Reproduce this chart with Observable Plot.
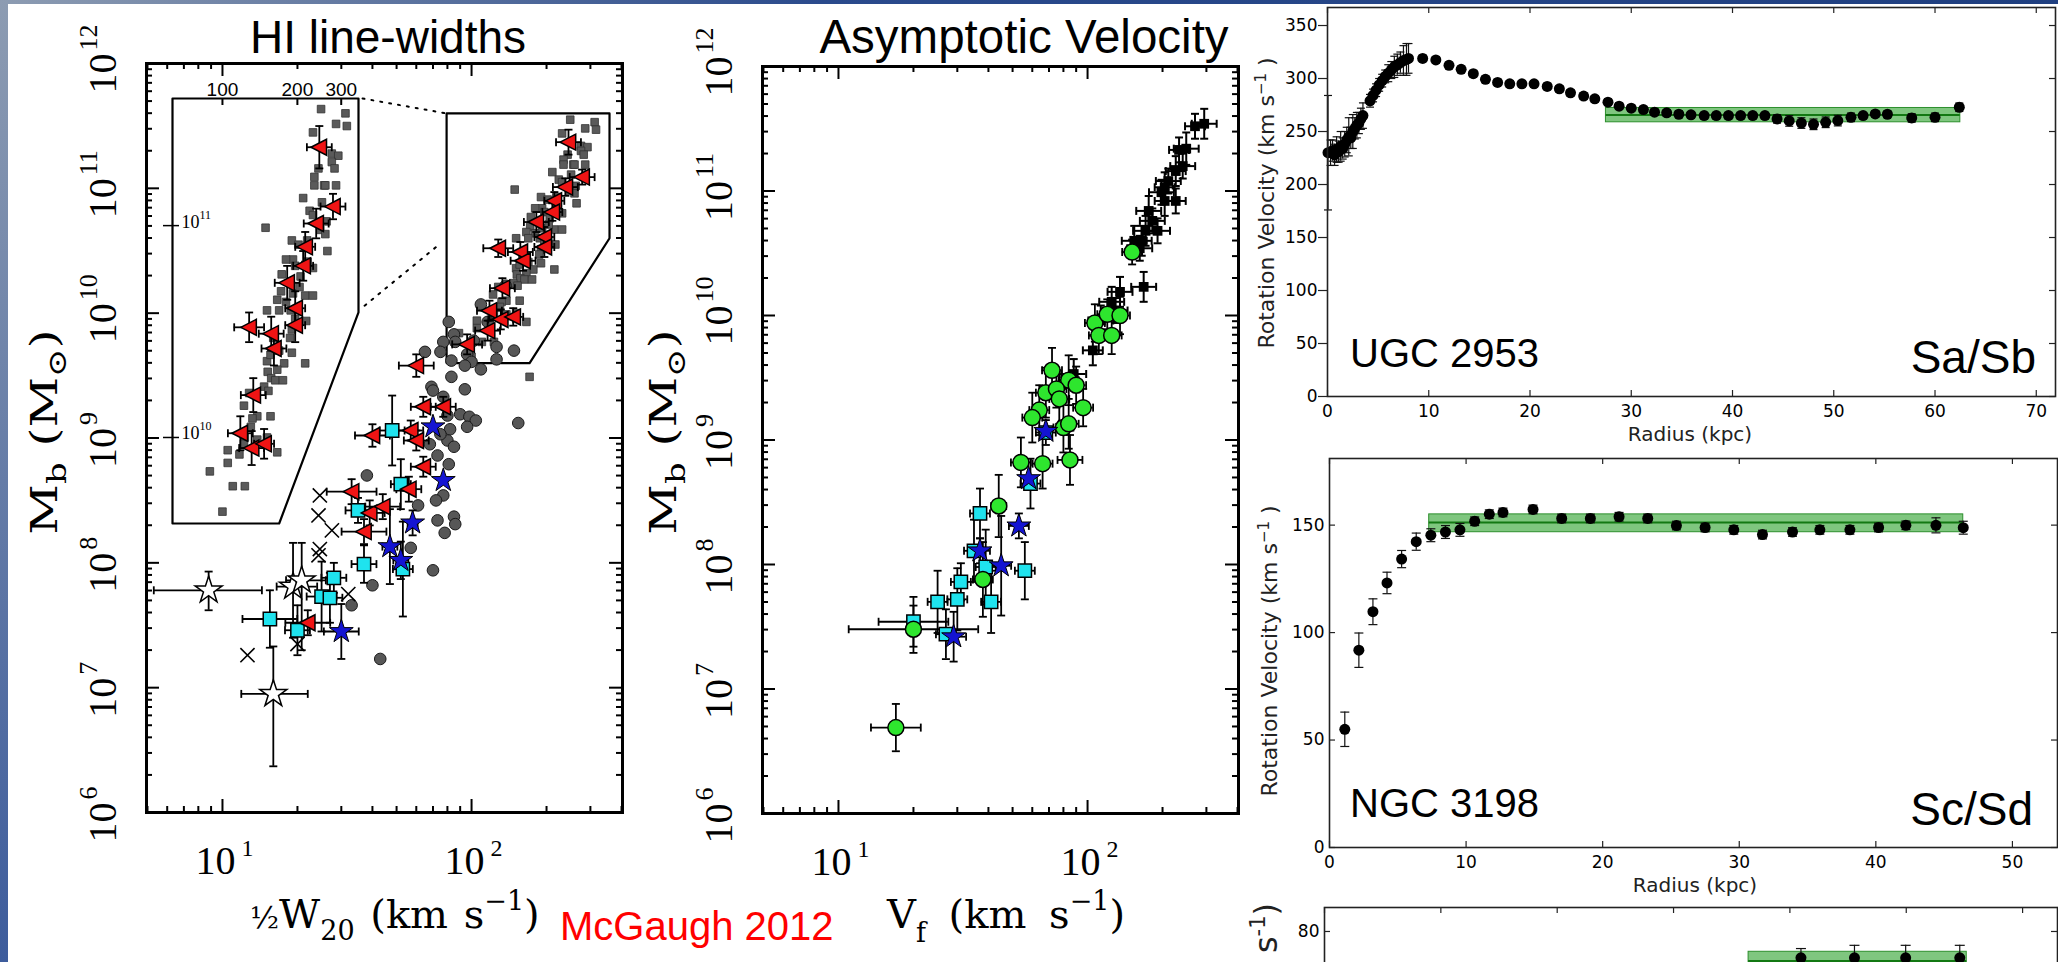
<!DOCTYPE html>
<html>
<head>
<meta charset="utf-8">
<script src="https://cdn.jsdelivr.net/npm/d3@7"></script>
<script src="https://cdn.jsdelivr.net/npm/@observablehq/plot@0.6"></script>
<style>
html, body { margin:0; padding:0; overflow:hidden; background:#fff; }
#stage { position:relative; width:2058px; height:962px; overflow:hidden; background:#fff; }
#stage > svg { position:absolute; left:0; top:0; }
#stripL { position:absolute; left:0; top:0; width:8px; height:962px; background:linear-gradient(#8d9cb2,#3d5c9c); z-index:10; }
#stripT { position:absolute; left:0; top:0; width:2058px; height:4px; background:linear-gradient(90deg,#8d9cb2,#2a4a8c 40%,#1f3f80); z-index:10; }
</style>
</head>
<body>
<div id="stage"><div id="stripL"></div><div id="stripT"></div></div>
<script>
// ================= DATA =================
// Left panel "HI line-widths": [½W20 (km/s), log10 Mb (Msun)]
const lwSquares = [[249,11.55],[312,11.53],[286,11.48],[316,11.47],[231,11.44],[275,11.34],[292,11.33],[275,11.30],[282,11.27],[243,11.27],[234,11.23],[256,11.19],[234,11.19],[286,11.19],[259,11.19],[211,11.13],[149,10.99],[251,11.11],[224,11.07],[231,11.05],[262,11.02],[247,10.98],[259,10.96],[264,10.88],[190,10.93],[202,10.91],[219,10.93],[192,10.84],[180,10.84],[220,10.83],[196,10.81],[231,10.80],[173,10.77],[206,10.76],[172,10.69],[192,10.68],[215,10.67],[231,10.67],[166,10.65],[180,10.64],[204,10.71],[151,10.60],[169,10.60],[188,10.60],[196,10.56],[217,10.55],[190,10.51],[160,10.47],[187,10.47],[169,10.41],[190,10.40],[151,10.36],[156,10.39],[177,10.35],[166,10.32],[152,10.31],[157,10.28],[215,10.35],[163,10.27],[175,10.27],[147,10.24],[153,10.22],[128,10.21],[122,10.15],[138,10.10],[156,10.10],[132,10.09],[130,10.05],[151,10.00],[105,9.94],[117,9.92],[105,9.88],[166,9.93],[123,10.00],[122,9.97],[138,9.99],[110,9.77],[123,9.77],[100,9.65],[89,9.84],[171,9.49]];
const lwCircles = [[137,10.22],[109,10.07],[81,9.93],[116,9.93],[85,9.83],[77,9.77],[86,9.77],[75,9.69],[102,9.78],[126,9.73],[65,9.69],[96,9.67],[126,9.63],[100,9.61],[83,9.62],[69,9.41],[94,9.58],[109,9.55],[83,9.49],[94,9.39],[77,9.33],[80,9.18],[90,9.19],[98,9.17],[104,9.14],[96,9.09],[82,9.07],[154,9.12],[80,8.98],[85,8.93],[81,8.79],[73,8.86],[68,8.95],[75,9.03],[38,8.70],[70,9.38],[148,9.70],[77,8.54],[72,8.50],[61,8.46],[85,8.37],[73,8.34],[86,8.31],[78,8.24],[57,8.12],[40,7.82],[33,7.66],[70,7.94],[43,7.23],[53,8.62]];
const lwCrosses = [[24.6,8.54],[24.3,8.38],[27.5,8.26],[24.6,8.11],[24.3,8.06],[32,7.75],[12.6,7.26],[20,7.35]];
// [V, logM, error in log V (dex), error in log M (dex)]
const lwRed = [[245,11.37,.05,.10],[278,11.09,.05,.06],[238,11.01,.05,.07],[215,10.90,.04,.07],[211,10.81,.04,.07],[182,10.73,.05,.08],[196,10.61,.04,.08],[196,10.53,.04,.08],[128,10.52,.06,.07],[157,10.49,.05,.08],[161,10.42,.05,.08],[133,10.20,.05,.08],[118,10.02,.05,.08],[131,9.95,.05,.08],[147,9.97,.04,.07],[116,9.86,.05,.08],[96,9.75,.06,.08],[60,9.58,.07,.09],[64,9.25,.05,.08],[77,9.25,.05,.08],[40,9.02,.07,.09],[57,9.06,.05,.08],[60,8.98,.05,.08],[64,8.77,.05,.08],[33,8.57,.1,.1],[39,8.40,.06,.1],[44,8.45,.07,.1],[56,8.59,.05,.1],[37,8.25,.09,.1],[22,7.52,.09,.1]];
const lwCyan = [[48,9.06,.05,.28],[52,8.63,.04,.2],[35,8.42,.05,.1],[28,7.88,.05,.12],[25,7.73,.06,.28],[27,7.72,.05,.2],[15.5,7.55,.11,.23],[20,7.46,.05,.2],[37,7.99,.05,.15],[53,7.95,.04,.38]];
const lwBlueStars = [[70,9.09,0,0],[77,8.66,0,0],[58,8.32,.02,.1],[47,8.13,.03,.3],[52,8.02,.03,.15],[30,7.45,.07,.22]];
// [V, logM, Vlow, Vhigh, logMlow, logMhigh]
const lwWhiteStars = [[8.8,7.78,5.3,14.4,7.62,7.93],[19.2,7.81,16.5,24,7.40,8.16],[20.8,7.86,18,26,7.3,8.16],[16,6.95,11.9,22,6.37,7.33]];

// Middle panel "Asymptotic Velocity": [Vf (km/s), log10 Mb, err log V, err log M]
const vfBlack = [[294,11.54,.05,.12],[270,11.52,.04,.1],[249,11.34,.05,.13],[233,11.33,.04,.1],[241,11.20,.05,.1],[226,11.16,.04,.12],[211,11.08,.05,.1],[204,11.03,.04,.12],[198,10.99,.05,.1],[226,10.92,.04,.1],[204,10.92,.04,.12],[176,10.84,.05,.12],[182,10.76,.05,.1],[191,10.68,.05,.1],[171,10.68,.05,.12],[165,10.60,.04,.12],[162,10.54,.05,.1],[154,10.60,.05,.12],[168,10.23,.05,.12],[135,10.19,.05,.12],[125,10.11,.05,.12],[129,10.04,.05,.1],[105,9.72,.04,.12],[88,9.53,.05,.12],[113,9.96,.05,.12]];
const vfGreen = [[151,10.51,.04,.1],[107,9.94,.04,.15],[120,10.01,.04,.12],[135,10.00,.04,.15],[111,9.84,.04,.15],[125,9.84,.04,.15],[72,9.56,.04,.18],[84,9.48,.04,.2],[90,9.44,.04,.15],[68,9.38,.04,.2],[75,9.41,.04,.15],[77,9.33,.04,.2],[96,9.26,.04,.15],[64,9.24,.04,.2],[60,9.18,.04,.2],[80,9.10,.04,.2],[84,9.13,.04,.2],[54,8.82,.04,.2],[66,8.81,.04,.2],[85,8.84,.05,.2],[44,8.47,.03,.25],[38,7.88,.04,.3],[20,7.48,.26,.19],[17,6.69,.1,.19]];
const vfCyan = [[37,8.41,.04,.2],[35,8.11,.04,.25],[39,7.98,.04,.3],[31,7.86,.04,.15],[25,7.70,.04,.25],[30,7.72,.04,.25],[41,7.70,.04,.25],[56,7.95,.04,.23],[20,7.54,.14,.2],[27,7.44,.04,.2],[59,8.65,.04,.2],[68,9.06,.04,.1]];
const vfBlue = [[53,8.31,.04,.1],[45,7.99,.04,.4],[37,8.11,.04,.1],[29,7.42,.05,.2],[68,9.07,0,0],[58,8.69,0,0]];

// Rotation curves: radius (kpc), velocity (km/s), error (km/s)
const ugcR = [0.05,0.3,0.5,0.7,0.9,1.1,1.3,1.5,1.7,1.9,2.1,2.3,2.5,2.7,2.9,3.1,3.3,3.5,4.2,4.5,4.8,5.1,5.4,5.7,6.0,6.3,6.6,6.9,7.2,7.5,7.8,8.0,9.4,10.7,12.0,13.2,14.4,15.6,16.8,18.0,19.2,20.4,21.7,22.9,24.0,25.3,26.4,27.7,28.8,30.0,31.2,32.3,33.5,34.7,35.9,37.2,38.4,39.6,40.8,42.0,43.2,44.4,45.6,46.8,48.0,49.2,50.4,51.7,52.9,54.1,55.3,57.7,60.0,62.4];
const ugcV = [230,230,232,228,233,231,236,234,238,242,245,244,250,253,256,258,262,265,279,284,289,294,298,302,305,308,311,313,315,317,318,319,319,317.5,312.4,308.7,304.6,299.2,296.3,295,295,295,292.5,290.3,286.5,283.4,280.8,277.7,273.9,272,270.7,268.2,267.6,266.3,265.7,265,265,265,265,265,265,261.9,260,258,256.8,258.7,260.3,263.4,265,266.6,266.3,262.8,263.4,272.9];
const ugcE = [54,12,10,10,12,10,14,10,12,12,18,10,16,10,12,10,10,12,6,6,6,6,6,6,8,8,10,10,10,14,15,14,3,3,3,3,3,3,3,3,3,3,3,3,3,3,3,3,3,3,3,3,3,3,3,3,3,3,3,3,3,4,5,5,5,5,5,4,3,3,3,4,4,4];
const ugcFlat = {r1: 27.5, r2: 62.5, v: 265.6, lo: 258.7, hi: 272.2};

const ngcR = [1.12,2.15,3.18,4.21,5.28,6.35,7.42,8.49,9.55,10.63,11.7,12.7,14.9,17.0,19.1,21.2,23.3,25.4,27.5,29.6,31.7,33.9,35.9,38.1,40.2,42.2,44.4,46.4];
const ngcV = [55.0,91.8,109.7,123.1,134.2,142.3,145.3,146.8,147.8,151.8,155.1,155.9,157.3,153.1,153.1,153.9,153.1,149.8,148.9,147.8,145.6,146.8,147.8,147.8,148.9,149.9,149.9,148.8];
const ngcE = [8,8,6,5,4,4,3,3,3,2,2,2,2,2,2,2,2,2,2,2,2,2,2,2,2,2,3.5,3];
const ngcFlat = {r1: 7.3, r2: 46.4, v: 151.2, lo: 146.7, hi: 155.0};

const dwR = [8.19, 9.11, 9.99, 10.92];
const dwV = [74.3, 74.3, 74.3, 74.3];
const dwE = [2.0, 2.7, 2.7, 2.7];
const dwFlat = {r1: 7.29, r2: 11.04, v: 73.6, lo: 71.6, hi: 75.6};

// annotation outlines of the HI line-width panel, in data units [V, logM]
const boxMain = [[79.4,11.6],[358,11.6],[358,10.6],[171,9.6],[79.4,9.6],[79.4,11.6]];
const boxInset = [[63,11.6],[352,11.6],[352,10.59],[169,9.594],[63,9.594],[63,11.6]];
const connectors = [[[36.5,11.72],[79.4,11.6]], [[37.2,10.06],[75.2,10.56]]];

// tick values
const logXMajor = [10, 100];
const logYMajor = [1e6,1e7,1e8,1e9,1e10,1e11,1e12];
const insetXTicks = [100, 200, 300];
const insetYTicks = [1e10, 1e11];
const ugcXTicks = [0,10,20,30,40,50,60,70], ugcYTicks = [0,50,100,150,200,250,300,350];
const ngcXTicks = [0,10,20,30,40,50], ngcYTicks = [0,50,100,150];
const dwXTicks = [0,2,4,6,8,10,12], dwYTicks = [0,20,40,60,80], dwYLabels = [80];

// ================= DRAWING =================
const W = 2058, H = 962;
const SERIF_T = "Liberation Serif, Times New Roman, serif";
const SERIF_L = "DejaVu Serif, serif";
const SANS = "Liberation Sans, Arial, sans-serif";
const MPL = "DejaVu Sans, sans-serif";
const stage = document.getElementById("stage");
const stripL = document.getElementById("stripL");
const put = el => { stage.insertBefore(el, stripL); return el; };

function minorLog(lo, hi) {
  const out = [];
  for (let e = Math.floor(Math.log10(lo)); e <= Math.ceil(Math.log10(hi)); e++)
    for (let k = 2; k <= 9; k++) { const v = k * 10 ** e; if (v > lo && v < hi) out.push(v); }
  return out;
}
const capV = {draw(c, s) { const r = Math.sqrt(s / Math.PI); c.moveTo(0, -r); c.lineTo(0, r); }};
const capH = {draw(c, s) { const r = Math.sqrt(s / Math.PI); c.moveTo(-r, 0); c.lineTo(r, 0); }};
const triLeft = {draw(c, s) { const r = Math.sqrt(s / Math.PI); c.moveTo(-r * 1.05, 0); c.lineTo(r * 0.9, -r); c.lineTo(r * 0.9, r); c.closePath(); }};

function errBars(data, {x, y, x1, x2, y1, y2, cap = 4, sw = 1.8, color = "black"}) {
  const hx = data.filter(d => x1(d) !== x2(d));
  const hy = data.filter(d => y1(d) !== y2(d));
  const s = {stroke: color, strokeWidth: sw, fill: "none"};
  return [
    Plot.ruleY(hx, {y, x1, x2, stroke: color, strokeWidth: sw}),
    Plot.ruleX(hy, {x, y1, y2, stroke: color, strokeWidth: sw}),
    Plot.dot(hx, {x: x1, y, symbol: capV, r: cap, ...s}),
    Plot.dot(hx, {x: x2, y, symbol: capV, r: cap, ...s}),
    Plot.dot(hy, {x, y: y1, symbol: capH, r: cap, ...s}),
    Plot.dot(hy, {x, y: y2, symbol: capH, r: cap, ...s})
  ];
}
const X = d => d[0], Y = d => 10 ** d[1];
const dexBars = (data, o = {}) => errBars(data, {x: X, y: Y,
  x1: d => d[0] * 10 ** -d[2], x2: d => d[0] * 10 ** d[2],
  y1: d => 10 ** (d[1] - d[3]), y2: d => 10 ** (d[1] + d[3]), ...o});

function framed(f, x, y, marks, height = H) {
  return Plot.plot({
    width: W, height,
    marginLeft: f.l, marginRight: W - f.r, marginTop: f.t, marginBottom: height - f.b,
    x: {...x, axis: null}, y: {...y, axis: null},
    style: {background: "transparent", overflow: "visible"},
    marks
  });
}

function idlTicks(f, xMaj, xMin, yMaj, yMin) {
  const fw = f.r - f.l, fh = f.b - f.t, A = 13, B = 6, s = {stroke: "black", strokeWidth: 2};
  return [
    Plot.tickX(xMaj, {x: d => d, insetTop: fh - A, ...s}),
    Plot.tickX(xMaj, {x: d => d, insetBottom: fh - A, ...s}),
    Plot.tickX(xMin, {x: d => d, insetTop: fh - B, ...s}),
    Plot.tickX(xMin, {x: d => d, insetBottom: fh - B, ...s}),
    Plot.tickY(yMaj, {y: d => d, insetRight: fw - A, ...s}),
    Plot.tickY(yMaj, {y: d => d, insetLeft: fw - A, ...s}),
    Plot.tickY(yMin, {y: d => d, insetRight: fw - B, ...s}),
    Plot.tickY(yMin, {y: d => d, insetLeft: fw - B, ...s}),
    Plot.frame({stroke: "black", strokeWidth: 3})
  ];
}
function logLabels(xMaj, yMaj) {
  const ex = d => String(Math.round(Math.log10(d)));
  return [
    Plot.text(xMaj, {x: d => d, frameAnchor: "bottom", text: () => "10", dx: -7, dy: 61, lineAnchor: "bottom", textAnchor: "middle", fontSize: 40, fontFamily: SERIF_T}),
    Plot.text(xMaj, {x: d => d, frameAnchor: "bottom", text: ex, dx: 19, dy: 43, lineAnchor: "bottom", textAnchor: "start", fontSize: 24, fontFamily: SERIF_T}),
    Plot.text(yMaj, {y: d => d, frameAnchor: "left", text: () => "10", rotate: -90, dx: -31, dy: 10, lineAnchor: "bottom", textAnchor: "middle", fontSize: 40, fontFamily: SERIF_T}),
    Plot.text(yMaj, {y: d => d, frameAnchor: "left", text: ex, rotate: -90, dx: -50, dy: -13, lineAnchor: "bottom", textAnchor: "start", fontSize: 26, fontFamily: SERIF_T})
  ];
}

const logX = {type: "log", domain: [10 ** 0.695, 10 ** 2.606]};
const logY = {type: "log", domain: [1e6, 1e12]};
const xMin = minorLog(logX.domain[0], logX.domain[1]);
const yMin = minorLog(1e6, 1e12);

// ---- Left panel: HI line-widths ----
const fL = {l: 146, r: 622, t: 63, b: 812};
put(framed(fL, logX, logY, [
  Plot.line(boxMain, {x: X, y: Y, stroke: "black", strokeWidth: 2.2}),
  ...connectors.map(c => Plot.line(c, {x: X, y: Y, stroke: "black", strokeWidth: 2, strokeDasharray: "2,7"})),
  Plot.dot(lwSquares, {x: X, y: Y, symbol: "square", r: 4.3, fill: "#5a5a5a", stroke: "#333", strokeWidth: 0.8}),
  Plot.dot(lwCircles, {x: X, y: Y, r: 5.8, fill: "#575757", stroke: "#1a1a1a", strokeWidth: 1}),
  Plot.dot(lwCrosses, {x: X, y: Y, symbol: "times", r: 6.5, stroke: "black", strokeWidth: 1.6}),
  ...errBars(lwWhiteStars, {x: X, y: Y, x1: d => d[2], x2: d => d[3], y1: d => 10 ** d[4], y2: d => 10 ** d[5]}),
  ...dexBars(lwCyan),
  ...dexBars(lwRed),
  ...dexBars(lwBlueStars),
  Plot.dot(lwCyan, {x: X, y: Y, symbol: "square", r: 7.5, fill: "#1fe3ee", stroke: "black", strokeWidth: 1.5}),
  Plot.dot(lwRed, {x: X, y: Y, symbol: triLeft, r: 8, fill: "#f01414", stroke: "black", strokeWidth: 1.5}),
  Plot.dot(lwBlueStars, {x: X, y: Y, symbol: "star", r: 7.5, fill: "#1414d2", stroke: "black", strokeWidth: 1}),
  Plot.dot(lwWhiteStars, {x: X, y: Y, symbol: "star", r: 8.5, fill: "white", stroke: "black", strokeWidth: 1.5}),
  ...idlTicks(fL, logXMajor, xMin, logYMajor, yMin),
  ...logLabels(logXMajor, logYMajor)
]));

// ---- Inset (magnified view) ----
const fI = {l: 172, r: 358, t: 98, b: 523};
const inSq = lwSquares.filter(d => d[1] >= 9.6);
const inRed = lwRed.filter(d => d[1] >= 9.9);
put(framed(fI, {type: "log", domain: [63, 352]}, {type: "log", domain: [10 ** 9.594, 10 ** 11.6]}, [
  Plot.line(boxInset, {x: X, y: Y, stroke: "black", strokeWidth: 2.2}),
  Plot.tickX(insetXTicks, {x: d => d, insetBottom: (fI.b - fI.t) - 7, stroke: "black", strokeWidth: 2}),
  Plot.tickY(insetYTicks, {y: d => d, insetLeft: -9, insetRight: (fI.r - fI.l) - 7, stroke: "black", strokeWidth: 1.5}),
  Plot.text(insetXTicks, {x: d => d, frameAnchor: "top", text: d => String(d), dy: -3, lineAnchor: "bottom", fontSize: 19, fontFamily: SANS}),
  Plot.text(insetYTicks, {y: d => d, frameAnchor: "left", text: () => "10", dx: 9, dy: 2, lineAnchor: "bottom", textAnchor: "start", fontSize: 18, fontFamily: SERIF_T}),
  Plot.text(insetYTicks, {y: d => d, frameAnchor: "left", text: d => String(Math.round(Math.log10(d))), dx: 27, dy: -7, lineAnchor: "bottom", textAnchor: "start", fontSize: 12, fontFamily: SERIF_T}),
  Plot.dot(inSq, {x: X, y: Y, symbol: "square", r: 4.3, fill: "#5a5a5a", stroke: "#333", strokeWidth: 0.8}),
  ...dexBars(inRed),
  Plot.dot(inRed, {x: X, y: Y, symbol: triLeft, r: 8, fill: "#f01414", stroke: "black", strokeWidth: 1.5})
]));

// ---- Middle panel: asymptotic velocity ----
const fM = {l: 762, r: 1238, t: 66, b: 813};
put(framed(fM, logX, logY, [
  ...dexBars(vfBlack, {sw: 2}),
  Plot.dot(vfBlack, {x: X, y: Y, symbol: "square", r: 5.5, fill: "black"}),
  ...dexBars(vfCyan),
  ...dexBars(vfGreen),
  ...dexBars(vfBlue),
  Plot.dot(vfCyan, {x: X, y: Y, symbol: "square", r: 7.5, fill: "#1fe3ee", stroke: "black", strokeWidth: 1.5}),
  Plot.dot(vfGreen, {x: X, y: Y, r: 8, fill: "#2ee62e", stroke: "black", strokeWidth: 1.5}),
  Plot.dot(vfBlue, {x: X, y: Y, symbol: "star", r: 7.5, fill: "#1414d2", stroke: "black", strokeWidth: 1}),
  ...idlTicks(fM, logXMajor, xMin, logYMajor, yMin),
  ...logLabels(logXMajor, logYMajor)
]));

// ---- Rotation curves ----
function rcPanel(f, xDom, yDom, R, V, E, flat, xT, yT, opt) {
  const idx = d3.range(R.length);
  const fw = f.r - f.l, fh = f.b - f.t;
  const s = {stroke: "#222", strokeWidth: 1.2};
  return framed(f, {domain: xDom}, {domain: yDom}, [
    Plot.rect([flat], {x1: "r1", x2: "r2", y1: "lo", y2: "hi", fill: "#3aa83a", fillOpacity: 0.65, stroke: "#2d8f2d", strokeWidth: 1}),
    Plot.ruleY([flat], {y: "v", x1: "r1", x2: "r2", stroke: "#137813", strokeWidth: 2}),
    Plot.ruleX(idx, {x: i => R[i], y1: i => V[i] - E[i], y2: i => V[i] + E[i], stroke: "#111", strokeWidth: 1.2}),
    Plot.dot(idx, {x: i => R[i], y: i => V[i] - E[i], symbol: capH, r: opt.cap, stroke: "#111", strokeWidth: 1.2, fill: "none"}),
    Plot.dot(idx, {x: i => R[i], y: i => V[i] + E[i], symbol: capH, r: opt.cap, stroke: "#111", strokeWidth: 1.2, fill: "none"}),
    Plot.dot(idx, {x: i => R[i], y: i => V[i], r: opt.r, fill: "black"}),
    Plot.frame({stroke: "#222", strokeWidth: 1.6}),
    Plot.tickX(xT, {x: d => d, insetTop: fh - 6, ...s}),
    Plot.tickX(xT, {x: d => d, insetBottom: fh - 6, ...s}),
    Plot.tickY(yT, {y: d => d, insetLeft: fw - 6, ...s}),
    opt.outY ? Plot.tickY(yT, {y: d => d, insetLeft: -9, insetRight: fw, ...s}) : Plot.tickY(yT, {y: d => d, insetRight: fw - 6, ...s}),
    Plot.axisY({anchor: "left", ticks: opt.yLabels ?? yT, tickSize: 0, tickPadding: opt.outY ? 10 : 5, fontSize: 17, fontFamily: MPL, label: null, tickFormat: d => String(d)}),
    opt.noXLabels ? null : Plot.axisX({anchor: "bottom", ticks: xT, tickSize: 0, tickPadding: 8, fontSize: 17, fontFamily: MPL, label: null, tickFormat: d => String(d)})
  ], opt.height);
}
put(rcPanel({l: 1327, r: 2055, t: 7, b: 396}, [0, 71.9], [0, 367], ugcR, ugcV, ugcE, ugcFlat, ugcXTicks, ugcYTicks, {cap: 4, r: 5.5, outY: true}));
put(rcPanel({l: 1329, r: 2057, t: 458, b: 847}, [0, 53.3], [0, 181], ngcR, ngcV, ngcE, ngcFlat, ngcXTicks, ngcYTicks, {cap: 4.5, r: 5.5, outY: false}));
put(rcPanel({l: 1324, r: 2057, t: 907, b: 1300}, [0, 12.6], [0, 85.2], dwR, dwV, dwE, dwFlat, dwXTicks, dwYTicks, {cap: 5, r: 5.5, outY: false, height: 1400, yLabels: dwYLabels, noXLabels: true}));

// ---- static text ----
const ov = document.createElementNS("http://www.w3.org/2000/svg", "svg");
ov.setAttribute("width", W); ov.setAttribute("height", H);
const ylab = (x) => `<text transform="translate(${x},432) rotate(-90) scale(1.3,1)" text-anchor="middle" font-family="${SERIF_L}" font-size="38">M<tspan dy="9" font-size="26">b</tspan><tspan dy="-9" font-size="38"> (M</tspan><tspan dy="9" font-size="26">⊙</tspan><tspan dy="-9" font-size="38">)</tspan></text>`;
const rvlab = (x, y, fs) => `<text transform="translate(${x},${y}) rotate(-90)" text-anchor="middle" font-family="${MPL}" font-size="${fs}" fill="#222">Rotation Velocity (km s<tspan dy="-8" font-size="${fs * 0.68}">−1</tspan><tspan dy="8" font-size="${fs}"> )</tspan></text>`;
ov.innerHTML = `
<g style="white-space:pre">
<text x="388" y="53" text-anchor="middle" font-family="${SANS}" font-size="46">HI line-widths</text>
<text x="1024" y="53" text-anchor="middle" font-family="${SANS}" font-size="47.5">Asymptotic Velocity</text>
${ylab(57)}
${ylab(676)}
<text x="250" y="928" font-family="${SERIF_L}" font-size="40" word-spacing="3"><tspan font-size="30">½</tspan>W<tspan dy="12" font-size="27">20</tspan><tspan dy="-12" font-size="40"> (km s</tspan><tspan dy="-18" font-size="27">−1</tspan><tspan dy="18" font-size="40">)</tspan></text>
<text x="887" y="928" font-family="${SERIF_L}" font-size="40" word-spacing="10">V<tspan dy="14" font-size="27">f</tspan><tspan dy="-14" font-size="40"> (km s</tspan><tspan dy="-18" font-size="27">−1</tspan><tspan dy="18" font-size="40">)</tspan></text>
<text x="560" y="940" fill="#ff0000" font-family="${SANS}" font-size="40">McGaugh 2012</text>
${rvlab(1274, 203, 22)}
${rvlab(1277, 651, 22)}
<text transform="translate(1277,903) rotate(-90)" text-anchor="end" font-family="${MPL}" font-size="32" fill="#222">s<tspan dy="-12" font-size="21">-1</tspan><tspan dy="12" font-size="32">)</tspan></text>
<text x="1690" y="441" text-anchor="middle" font-family="${MPL}" font-size="20" fill="#222">Radius (kpc)</text>
<text x="1695" y="892" text-anchor="middle" font-family="${MPL}" font-size="20" fill="#222">Radius (kpc)</text>
<text x="1350" y="367" font-family="${SANS}" font-size="40">UGC 2953</text>
<text x="2036" y="373" text-anchor="end" font-family="${SANS}" font-size="46">Sa/Sb</text>
<text x="1350" y="817" font-family="${SANS}" font-size="40">NGC 3198</text>
<text x="2033" y="825" text-anchor="end" font-family="${SANS}" font-size="46">Sc/Sd</text>
</g>`;
put(ov);
</script>
</body>
</html>
